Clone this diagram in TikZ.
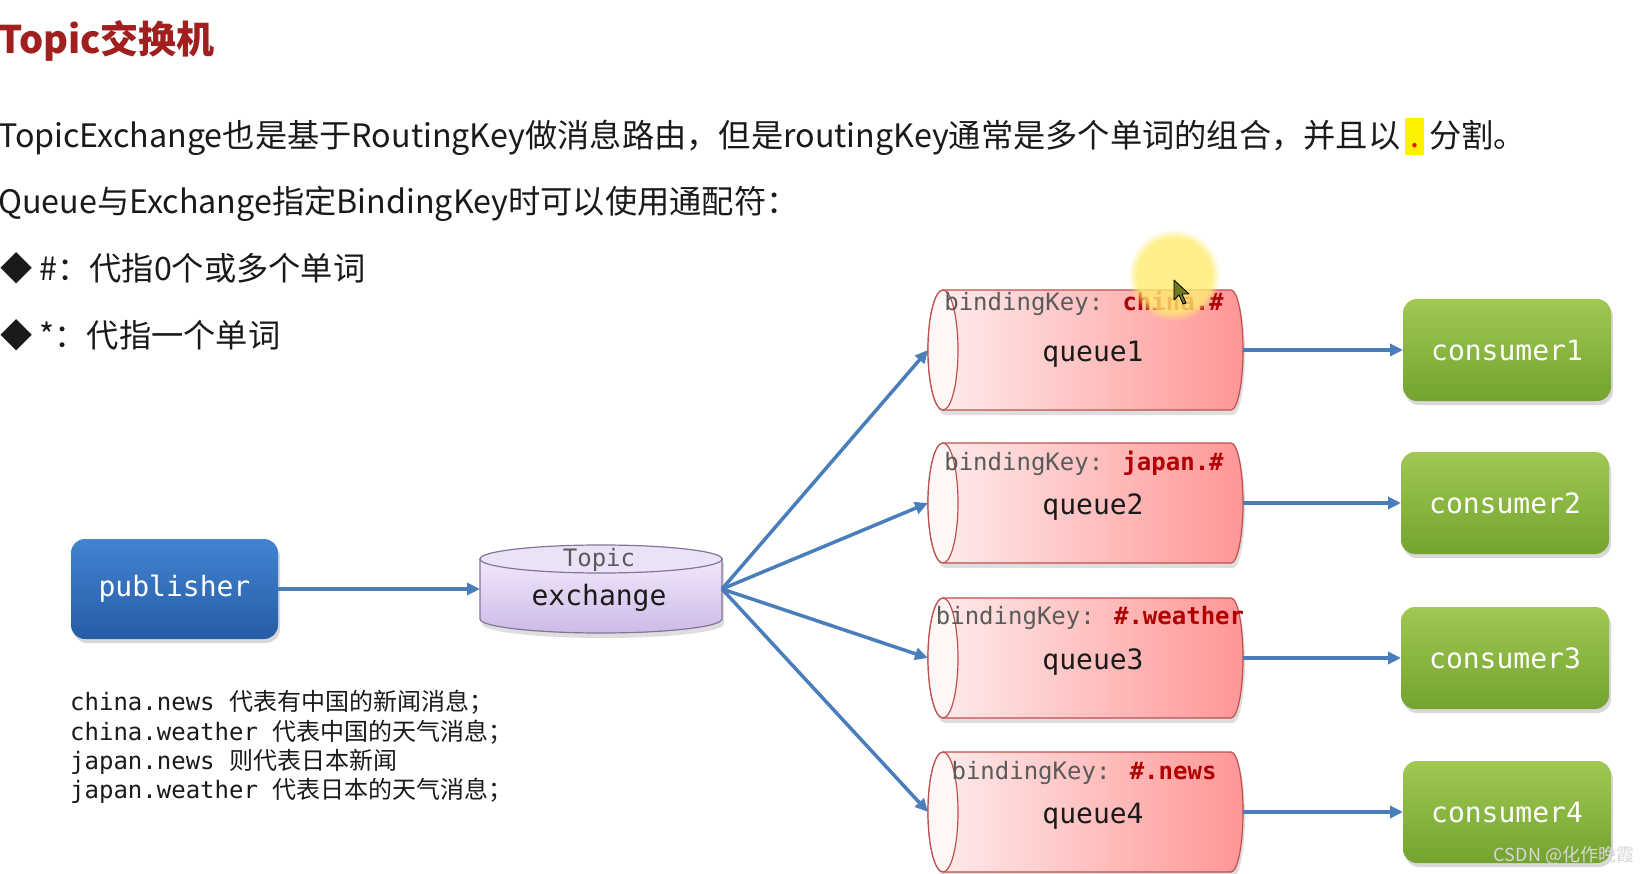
\documentclass[tikz,border=0pt]{standalone}
\usepackage{fontspec}
\setmainfont{Noto Sans CJK SC}
\newfontfamily\cjk{Noto Sans CJK SC}
\newfontfamily\mono{DejaVu Sans Mono}
\usetikzlibrary{arrows.meta,shadows,fadings}
\pgfdeclarelayer{bg}
\pgfsetlayers{bg,main}

\definecolor{titlered}{RGB}{160,32,32}
\definecolor{txt}{RGB}{26,26,26}
\definecolor{arrowblue}{RGB}{74,126,187}
\definecolor{pubtop}{RGB}{66,132,208}
\definecolor{pubbot}{RGB}{38,92,165}
\definecolor{contop}{RGB}{160,200,82}
\definecolor{conbot}{RGB}{116,163,48}
\definecolor{qleft}{RGB}{255,238,238}
\definecolor{qright}{RGB}{255,150,150}
\definecolor{qend}{RGB}{255,246,246}
\definecolor{qborder}{RGB}{192,80,77}
\definecolor{extop}{RGB}{240,232,250}
\definecolor{exbot}{RGB}{206,186,232}
\definecolor{exend}{RGB}{236,226,248}
\definecolor{exborder}{RGB}{130,118,150}
\definecolor{keygray}{RGB}{90,90,90}
\definecolor{keyred}{RGB}{176,0,0}
\definecolor{hlyellow}{RGB}{255,242,0}
\definecolor{glowc}{RGB}{255,236,110}
\definecolor{wmc}{RGB}{215,215,215}
\definecolor{cursorc}{RGB}{110,120,30}

\newcommand\fs[1]{\fontsize{#1}{#1}\selectfont}
\newcommand\hldot{{\setlength{\fboxsep}{0pt}\colorbox{hlyellow}{\rule[-7pt]{0pt}{37pt}\hspace{5pt}\textcolor{red}{.}\hspace{5pt}}}}
\newcommand\noteline[2]{{\mono\fs{24}#1}{\cjk\fs{24}#2}}
\newcommand\lowered[1]{\raisebox{-4pt}[\height][\depth]{#1}}

\tikzset{
  arr/.style={draw=arrowblue, line width=3.5pt, -{Triangle[length=13pt,width=12pt]}},
  pubbox/.style={rounded corners=14pt, top color=pubtop, bottom color=pubbot,
    minimum width=207pt, minimum height=100pt, inner sep=0pt, outer sep=0pt,
    text=white, font=\mono\fs{28},
    drop shadow={shadow xshift=2pt,shadow yshift=-4pt,opacity=0.3}},
  conbox/.style={rounded corners=14pt, top color=contop, bottom color=conbot,
    minimum width=208pt, minimum height=102pt, inner sep=0pt, outer sep=0pt,
    text=white, font=\mono\fs{28},
    drop shadow={shadow xshift=2pt,shadow yshift=-4pt,opacity=0.3}},
  qnode/.style={minimum width=300pt, minimum height=120pt, inner sep=0pt, outer sep=0pt,
    font=\mono\fs{28}, text=txt},
  exnode/.style={minimum width=242pt, minimum height=88pt, inner sep=0pt, outer sep=0pt},
  keylbl/.style={font=\mono\fs{24}, text=keygray, inner sep=0pt},
  para/.style={anchor=base west, inner sep=0pt, font=\cjk\fs{32.25}, text=txt},
  note/.style={anchor=base west, inner sep=0pt, text=txt},
  qbody/.style={insert path={(-150,-60) -- (138,-60)
     arc[start angle=-90,end angle=90,x radius=12,y radius=60]
     -- (-150,60) arc[start angle=90,end angle=270,x radius=15,y radius=60] -- cycle}},
  exbody/.style={insert path={(-121,-30) -- (-121,30)
     arc[start angle=180,end angle=0,x radius=121,y radius=14] -- (121,-30) -- cycle}},
}

\newcommand\queueshape[1]{%
  \begin{scope}[shift={(#1.center)}]
    \fill[black,opacity=0.13,xshift=2pt,yshift=-5pt,qbody];
    \shadedraw[left color=qleft,right color=qright,draw=qborder,line width=1.2pt,qbody];
    \filldraw[fill=qend,draw=qborder,line width=1.2pt] (-150,0) ellipse[x radius=15,y radius=60];
  \end{scope}}

\begin{document}
\begin{tikzpicture}[x=1pt,y=-1pt]
\useasboundingbox (0,0) rectangle (1646,874);

% text block
\node[para, font=\cjk\bfseries\fs{38}, text=titlered] (title) at (-2,54) {Topic交换机};
\node[para] (l1) at (-2,148) {TopicExchange也是基于RoutingKey做消息路由，但是routingKey通常是多个单词的组合，并且以\hspace{5pt}\hldot\hspace{5pt}分割。};
\node[para] (l2) at (-2,214) {Queue与Exchange指定BindingKey时可以使用通配符：};
\node[para] (b1) at (0,281) {◆\hspace{7pt}\#：代指0个或多个单词};
\node[para] (b2) at (0,348) {◆\hspace{7pt}*：代指一个单词};

% notes
\node[note] (n1) at (70,710) {\noteline{china.news }{代表有中国的新闻消息；}};
\node[note] (n2) at (70,740) {\noteline{china.weather }{代表中国的天气消息；}};
\node[note] (n3) at (70,769) {\noteline{japan.news }{则代表日本新闻}};
\node[note] (n4) at (70,798) {\noteline{japan.weather }{代表日本的天气消息；}};

% main nodes
\node[pubbox] (pub) at (174.5,589) {publisher};
\node[exnode] (ex) at (601,589) {};
\node[font=\mono\fs{24}, text=keygray, inner sep=0pt] (exT) at (599,560) {Topic};
\node[font=\mono\fs{28}, text=txt, inner sep=0pt] (exL) at (599,598) {exchange};

\node[qnode] (q1) at (1093,350) {\lowered{queue1}};
\node[qnode] (q2) at (1093,503) {\lowered{queue2}};
\node[qnode] (q3) at (1093,658) {\lowered{queue3}};
\node[qnode] (q4) at (1093,812) {\lowered{queue4}};

\node[keylbl] (k1) at (1084,303) {bindingKey: {\bfseries\color{keyred}china.\#}};
\node[keylbl] (k2) at (1084,463) {bindingKey: {\bfseries\color{keyred}japan.\#}};
\node[keylbl] (k3) at (1090,618) {bindingKey: {\bfseries\color{keyred}\#.weather}};
\node[keylbl] (k4) at (1084,773) {bindingKey: {\bfseries\color{keyred}\#.news}};

\node[conbox] (c1) at (1507,350) {consumer1};
\node[conbox] (c2) at (1505,503) {consumer2};
\node[conbox] (c3) at (1505,658) {consumer3};
\node[conbox] (c4) at (1507,812) {consumer4};

% shapes behind
\begin{pgfonlayer}{bg}
  \fill[white] (0,0) rectangle (1646,874);
  \queueshape{q1}
  \queueshape{q2}
  \queueshape{q3}
  \queueshape{q4}
  \begin{scope}[shift={(ex.center)}]
    \fill[black,opacity=0.13,xshift=2pt,yshift=-5pt,exbody];
    \fill[black,opacity=0.13,xshift=2pt,yshift=-5pt] (0,-30) ellipse[x radius=121,y radius=14];
    \shadedraw[top color=extop,bottom color=exbot,draw=exborder,line width=1.2pt,exbody];
    \filldraw[fill=exend,draw=exborder,line width=1.2pt] (0,-30) ellipse[x radius=121,y radius=14];
  \end{scope}
\end{pgfonlayer}

% connectors
\draw[arr] (pub.east) -- (ex.west);
\draw[arr] (ex.east) -- ([xshift=-15pt]q1.west);
\draw[arr] (ex.east) -- ([xshift=-15pt]q2.west);
\draw[arr] (ex.east) -- ([xshift=-15pt]q3.west);
\draw[arr] (ex.east) -- ([xshift=-15pt]q4.west);
\draw[arr] (q1.east) -- (c1.west);
\draw[arr] (q2.east) -- (c2.west);
\draw[arr] (q3.east) -- (c3.west);
\draw[arr] (q4.east) -- (c4.west);

% cursor highlight
\fill[glowc, opacity=0.8, path fading=circle with fuzzy edge 20 percent] (1174,275) circle[radius=46];
\filldraw[fill=cursorc, draw=black, line width=0.8pt, line join=round]
  (1174,280) -- (1174,300) -- (1179,295) -- (1183,304) -- (1186,303) -- (1182,294) -- (1189,294) -- cycle;

% watermark
\node[font=\cjk\fs{18}, text=wmc, inner sep=0pt] (wm) at (1564,855) {CSDN @化作晚霞};
\end{tikzpicture}
\end{document}
